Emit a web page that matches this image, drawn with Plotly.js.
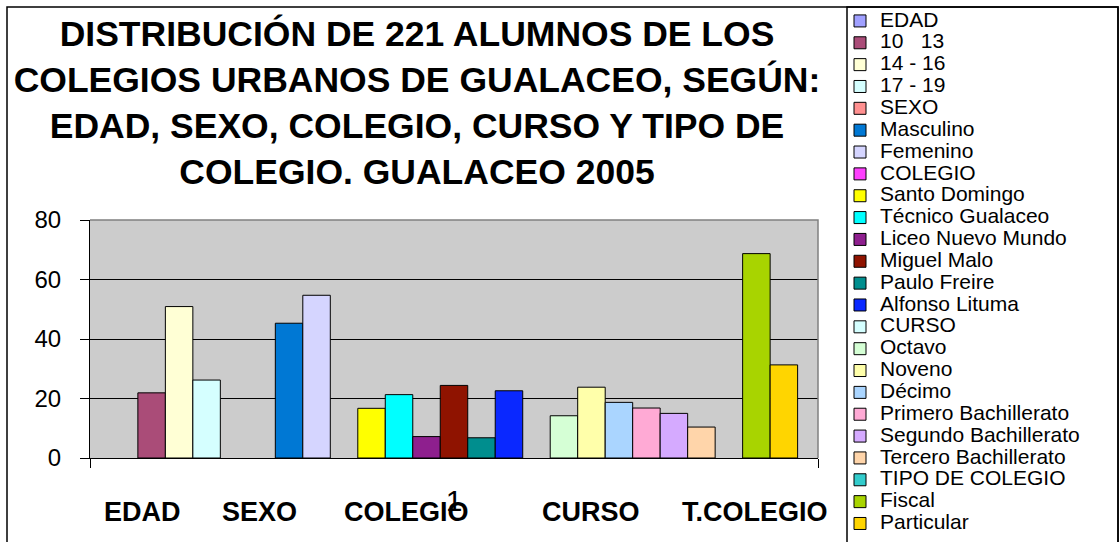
<!DOCTYPE html>
<html>
<head>
<meta charset="utf-8">
<script src="https://cdn.plot.ly/plotly-3.0.1.min.js"></script>
<style>
  html, body { margin: 0; padding: 0; background: #ffffff; }
  #chart { width: 1120px; height: 542px; }
</style>
</head>
<body>
<div id="chart"></div>
<script>
// ---- Data (percent of 221 students) ----
const category = ['1'];
const seriesNames = [
  'EDAD', '10\u00a0\u00a0\u00a013', '14 - 16', '17 - 19',
  '', 'SEXO', 'Masculino', 'Femenino',
  'COLEGIO', 'Santo Domingo', 'Técnico Gualaceo', 'Liceo Nuevo Mundo', 'Miguel Malo', 'Paulo Freire', 'Alfonso Lituma',
  'CURSO', 'Octavo', 'Noveno', 'Décimo', 'Primero Bachillerato', 'Segundo Bachillerato', 'Tercero Bachillerato',
  'TIPO DE COLEGIO', 'Fiscal', 'Particular'
];
const seriesValues = [
  null, 21.9, 50.9, 26.2,
  null, null, 45.3, 54.7,
  null, 16.7, 21.3, 7.2, 24.4, 6.8, 22.6,
  null, 14.2, 23.8, 18.7, 16.8, 15.0, 10.4,
  null, 68.7, 31.3
];
const seriesColors = [
  '#a0a0ff', '#aa4c78', '#ffffd5', '#d5ffff',
  '#ffffff', '#ff9090', '#0078d4', '#d5d5ff',
  '#ff40ff', '#ffff00', '#00ffff', '#8e1f8e', '#8f1300', '#008e8e', '#0a28ff',
  '#d5ffff', '#d5ffd5', '#ffffaa', '#aad5ff', '#ffaad5', '#d5aaff', '#ffd5aa',
  '#33cccc', '#a8d400', '#ffd500'
];
const yTicks = [0, 20, 40, 60, 80];
const groupLabels = ['EDAD', 'SEXO', 'COLEGIO', 'CURSO', 'T.COLEGIO'];
const titleLines = [
  'DISTRIBUCIÓN DE 221 ALUMNOS DE LOS',
  'COLEGIOS URBANOS DE GUALACEO, SEGÚN:',
  'EDAD, SEXO, COLEGIO, CURSO Y TIPO DE',
  'COLEGIO. GUALACEO 2005'
];

// ---- Build traces ----
const FONT = 'Liberation Sans, Arial, Helvetica, sans-serif';
const traces = seriesNames.map((n, i) => ({
  type: 'bar',
  x: category,
  y: [seriesValues[i]],
  name: n === '' ? ' ' : '<span style="font-size:21px">' + n + '</span>',
  showlegend: n !== '',
  marker: { color: seriesColors[i], line: { color: '#000000', width: 1 } },
  hoverinfo: 'skip'
}));

// pixel -> paper helpers (plot area: x 90..818, y 220..458)
const PL = 90, PR = 818, PT = 220, PB = 458;
const px = v => (v - PL) / (PR - PL);
const py = v => (PB - v) / (PB - PT);

const groupX = [142, 259, 406, 591, 755];
const annotations = groupLabels.map((t, i) => ({
  text: t, xref: 'paper', yref: 'paper', x: px(groupX[i]), y: py(512),
  xanchor: 'center', yanchor: 'middle', showarrow: false,
  font: { family: FONT, size: 27, color: '#000', weight: 'bold' }
}));

const shapes = [
  // outer chart border
  { type: 'rect', xref: 'paper', yref: 'paper', x0: px(7), x1: px(1118), y0: py(560), y1: py(7),
    line: { color: '#000', width: 1.5 }, fillcolor: 'rgba(0,0,0,0)', layer: 'above' },
  // legend box
  { type: 'rect', xref: 'paper', yref: 'paper', x0: px(847), x1: px(1118), y0: py(560), y1: py(7),
    line: { color: '#000', width: 1.5 }, fillcolor: 'rgba(0,0,0,0)', layer: 'above' },
  // top & right plot border (gray)
  { type: 'path', xref: 'paper', yref: 'paper',
    path: 'M 0,1 L 1,1 L 1,0', line: { color: '#808080', width: 1.5 }, layer: 'above' }
];

const layout = {
  width: 1120, height: 542,
  margin: { l: PL, r: 1120 - PR, t: PT, b: 542 - PB, pad: 0 },
  paper_bgcolor: '#ffffff',
  plot_bgcolor: '#cccccc',
  font: { family: FONT, color: '#000' },
  title: {
    text: titleLines.join('<br>'),
    font: { family: FONT, size: 35.5, color: '#000', weight: 'bold' },
    x: 417 / 1120, xanchor: 'center', xref: 'container',
    y: 1 - 46 / 542, yanchor: 'top', yref: 'container'
  },
  barmode: 'group',
  bargap: 0.056,
  bargroupgap: 0,
  showlegend: true,
  legend: {
    x: 840 / 1120, y: 1 - 5 / 542, xanchor: 'left', yanchor: 'top',
    xref: 'container', yref: 'container',
    maxheight: 540,
    font: { family: FONT, size: 14.5, color: '#000' },
    bgcolor: 'rgba(0,0,0,0)', borderwidth: 0,
    itemwidth: 30, traceorder: 'normal', tracegroupgap: 0
  },
  xaxis: {
    type: 'category', range: [-0.5, 0.5], fixedrange: true,
    showline: true, linecolor: '#000', linewidth: 1,
    ticks: 'outside', tickson: 'boundaries', ticklen: 9, tickcolor: '#000', tickwidth: 1,
    ticklabelstandoff: 16,
    tickfont: { family: FONT, size: 30, color: '#000' },
    showgrid: false, zeroline: false
  },
  yaxis: {
    range: [0, 80], tickvals: yTicks, ticktext: yTicks.map(String), fixedrange: true,
    showline: true, linecolor: '#000', linewidth: 1,
    ticks: 'outside', ticklen: 9, tickcolor: '#000', tickwidth: 1,
    ticklabelstandoff: 14,
    tickfont: { family: FONT, size: 24, color: '#000' },
    showgrid: true, gridcolor: '#000', gridwidth: 1, zeroline: false
  },
  annotations: annotations,
  shapes: shapes
};

Plotly.newPlot('chart', traces, layout, { displayModeBar: false, staticPlot: true });
</script>
</body>
</html>
